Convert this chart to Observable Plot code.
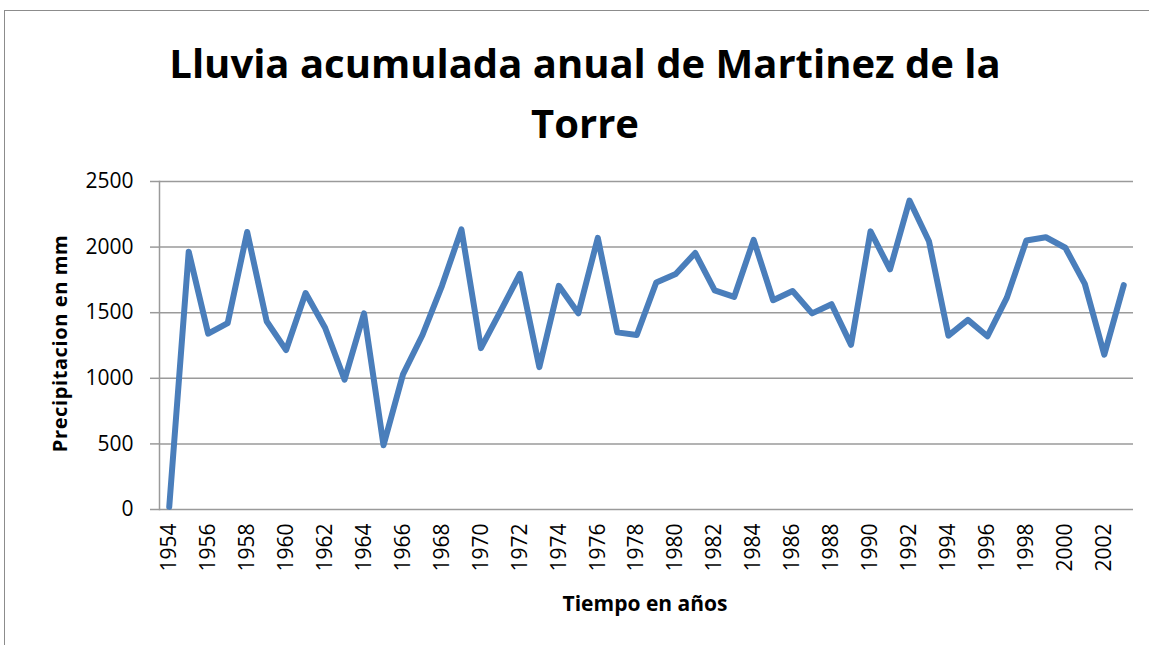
<!DOCTYPE html>
<html>
<head>
<meta charset="utf-8">
<script src="https://cdn.jsdelivr.net/npm/d3@7"></script>
<script src="https://cdn.jsdelivr.net/npm/@observablehq/plot@0.6"></script>
<style>
  html, body { margin: 0; padding: 0; background: #fff; overflow: hidden; }
  #wrap { position: relative; width: 1149px; height: 645px; overflow: hidden; }
  #border { position: absolute; left: 4px; top: 10px; width: 1170px; height: 700px; border: 1px solid #8c8c8c; box-sizing: border-box; }
  .title { position: absolute; left: 0; width: 1170px; text-align: center; font-family: "Open Sans", sans-serif; font-weight: 700; font-size: 40px; color: #000; line-height: 1; }
  .ytitle { position: absolute; font-family: "Open Sans", sans-serif; font-weight: 700; font-size: 20px; letter-spacing: 0.6px; white-space: nowrap; transform-origin: center center; }
  .xtitle { position: absolute; left: 0; width: 1290px; text-align: center; font-family: "Open Sans", sans-serif; font-weight: 700; font-size: 21px; line-height: 1; }
  #chart { position: absolute; left: 0; top: 0; }
</style>
</head>
<body>
<div id="wrap">
  <div id="border"></div>
  <div id="chart"></div>
  <div class="title" style="top:43px;">Lluvia acumulada anual de Martinez de la</div>
  <div class="title" style="top:103px;">Torre</div>
  <div class="ytitle" id="yt">Precipitacion en mm</div>
  <div class="xtitle" style="top:593px;">Tiempo en años</div>
</div>
<script>
const years = d3.range(1954, 2004);
const rainfall = [
  20, 1965, 1340, 1420, 2115, 1435, 1215, 1650, 1385, 990,
  1495, 490, 1030, 1330, 1705, 2135, 1230, 1510, 1795, 1085,
  1705, 1495, 2070, 1350, 1330, 1730, 1795, 1955, 1670, 1620,
  2055, 1595, 1665, 1495, 1565, 1255, 2120, 1830, 2355, 2045,
  1325, 1445, 1320, 1615, 2050, 2075, 1995, 1720, 1180, 1710
];
const yTicks = [0, 500, 1000, 1500, 2000, 2500];
const xTickYears = years.filter(y => y % 2 === 0);

const data = years.map((y, i) => ({year: y, value: rainfall[i]}));

const chart = Plot.plot({
  width: 1149,
  height: 645,
  marginTop: 181,
  marginBottom: 136,
  marginLeft: 159,
  marginRight: 16,
  style: { fontFamily: "Open Sans, sans-serif", fontSize: "21px", color: "#000", background: "transparent" },
  x: { type: "linear", domain: [1953.5, 2003.5] },
  y: { domain: [0, 2500] },
  marks: [
    Plot.ruleY(yTicks, { stroke: "#9a9a9a", strokeWidth: 1.5 }),
    Plot.frame({ anchor: "left", stroke: "#9a9a9a", strokeWidth: 1.5 }),
    Plot.axisY({ ticks: yTicks, tickSize: 9, tickPadding: 17, stroke: "#9a9a9a", strokeWidth: 1.5, label: null, fontSize: 21, tickFormat: d => String(d) }),
    Plot.axisX({ ticks: xTickYears, tickRotate: -90, tickSize: 0, tickPadding: 14, label: null, fontSize: 21, tickFormat: d => String(d) }),
    Plot.line(data, { x: "year", y: "value", stroke: "#4a7ebb", strokeWidth: 6, strokeLinejoin: "round", strokeLinecap: "round" })
  ]
});
document.getElementById("chart").appendChild(chart);

const yt = document.getElementById("yt");
const w = yt.offsetWidth, h = yt.offsetHeight;
yt.style.left = (59 - w / 2) + "px";
yt.style.top = (343 - h / 2) + "px";
yt.style.transform = "rotate(-90deg)";
</script>
</body>
</html>
